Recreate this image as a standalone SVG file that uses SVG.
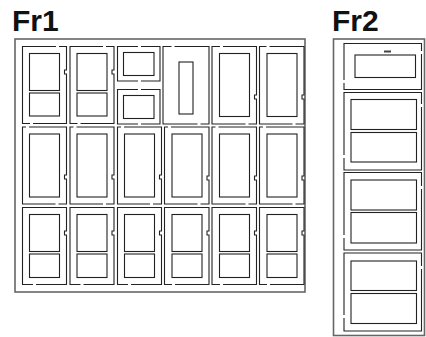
<svg xmlns="http://www.w3.org/2000/svg" width="426" height="337" viewBox="0 0 426 337">
<style>
.t{font-family:"Liberation Sans",Arial,sans-serif;font-weight:700;font-size:30px;fill:#111}
.f{fill:none;stroke:#666;stroke-width:1.6}
.c,.w{fill:none;stroke:#222;stroke-width:1.1}
</style>
<rect width="426" height="337" fill="#fff"/>
<text class="t" x="12" y="31">Fr1</text>
<text class="t" x="332" y="31">Fr2</text>
<g id="Fr1">
<rect class="f" x="15" y="39" width="290" height="253"/>
<g id="c11"><path class="c" d="M59 46.500H66.500V70H64.500V74H66.500V123.500H33M30 123.500H22.500V46.500H56"/><rect class="w" x="29.500" y="53.500" width="30" height="37"/><rect class="w" x="29.500" y="93" width="30" height="23"/></g>
<g id="c12"><path class="c" d="M106 46.500H114V70H112V74H114V123.500H80.500M77.500 123.500H70V46.500H103"/><rect class="w" x="77" y="53.500" width="30" height="37"/><rect class="w" x="77" y="93" width="30" height="23"/></g>
<g id="c13a"><path class="c" d="M141 46.500H160V81H141M138 81H117.500V46.500H138"/><rect class="w" x="123.500" y="52.500" width="30.500" height="23"/></g>
<g id="c13b"><path class="c" d="M141 89.500H160V124H141M138 124H117.500V89.500H138"/><rect class="w" x="123.500" y="95.500" width="30.500" height="23"/></g>
<g id="c14"><path class="c" d="M174.500 46.500H209V124H200.500M197.500 124H163V46.500H171.500"/><rect class="w" x="179" y="62" width="14" height="52"/></g>
<g id="c15"><path class="c" d="M223 46.500H256.500V95H254.500V99H256.500V124H248.500M245.500 124H212V46.500H220"/><rect class="w" x="219.500" y="53.500" width="30" height="63"/></g>
<g id="c16"><path class="c" d="M269.500 46.500H304V95H302V99H304V124H295.500M292.500 124H259.500V46.500H266.500"/><rect class="w" x="267" y="53.500" width="30" height="63"/></g>
<g id="c21"><path class="c" d="M29 127H66.500V175H64.500V179H66.500V204H58.500M55.500 204H22.500V127H26"/><rect class="w" x="29.500" y="134" width="30" height="63"/></g>
<g id="c22"><path class="c" d="M76.500 127H114V175H112V179H114V204H106M103 204H70V127H73.500"/><rect class="w" x="77" y="134" width="30" height="63"/></g>
<g id="c23"><path class="c" d="M124 127H161.500V175H159.500V179H161.500V204H153M150 204H117.500V127H121"/><rect class="w" x="124.500" y="134" width="30" height="63"/></g>
<g id="c24"><path class="c" d="M171 127H209V176H207V180H209V204H200.500M197.500 204H164.500V127H168"/><rect class="w" x="172" y="134" width="30" height="63"/></g>
<g id="c25"><path class="c" d="M218.500 127H256.500V176H254.500V180H256.500V204H248.500M245.500 204H212V127H215.500"/><rect class="w" x="219.500" y="134" width="30" height="63"/></g>
<g id="c26"><path class="c" d="M266 127H304V176H302V180H304V204H295.500M292.500 204H259.500V127H263"/><rect class="w" x="267" y="134" width="30" height="63"/></g>
<g id="c31"><path class="c" d="M33 284.500H22.500V207.500H66.500V231H64.500V235H66.500V284.500H36"/><rect class="w" x="29.500" y="214.500" width="30" height="37"/><rect class="w" x="29.500" y="254" width="30" height="23.500"/></g>
<g id="c32"><path class="c" d="M80.500 284.500H70V207.500H114V231H112V235H114V284.500H83.500"/><rect class="w" x="77" y="214.500" width="30" height="37"/><rect class="w" x="77" y="254" width="30" height="23.500"/></g>
<g id="c33"><path class="c" d="M128 284.500H117.500V207.500H161.500V231H159.500V235H161.500V284.500H131"/><rect class="w" x="124.500" y="214.500" width="30" height="37"/><rect class="w" x="124.500" y="254" width="30" height="23.500"/></g>
<g id="c34"><path class="c" d="M172 284.500H164.500V207.500H209V231H207V235H209V284.500H175"/><rect class="w" x="172" y="214.500" width="30" height="37"/><rect class="w" x="172" y="254" width="30" height="23.500"/></g>
<g id="c35"><path class="c" d="M220 284.500H212V207.500H256.500V231H254.500V235H256.500V284.500H223"/><rect class="w" x="219.500" y="214.500" width="30" height="37"/><rect class="w" x="219.500" y="254" width="30" height="23.500"/></g>
<g id="c36"><path class="c" d="M267 284.500H259.500V207.500H304V231H302V235H304V284.500H270"/><rect class="w" x="267" y="214.500" width="30" height="37"/><rect class="w" x="267" y="254" width="30" height="23.500"/></g>
</g>
<g id="Fr2">
<rect class="f" x="333.500" y="39" width="91" height="296.500"/>
<g id="d1"><path class="c" d="M344 80V43.500H421.500V51M421.500 54V89.500H344V83"/><rect class="w" x="355" y="55" width="60.500" height="22.500"/><rect x="384" y="50.500" width="7" height="2" fill="#444"/></g>
<g id="d2"><path class="c" d="M344 155V92.500H421.500V104M421.500 107V170H344V158"/><rect class="w" x="351" y="99.500" width="65.500" height="30"/><rect class="w" x="351" y="132.500" width="65.500" height="29.500"/></g>
<g id="d3"><path class="c" d="M344 235V172.500H421.500V186M421.500 189V250H344V238"/><rect class="w" x="351" y="180" width="65.500" height="30"/><rect class="w" x="351" y="212.500" width="65.500" height="30.500"/></g>
<g id="d4"><path class="c" d="M344 315V253H421.500V266M421.500 269V331H344V318"/><rect class="w" x="351" y="261" width="65.500" height="29.500"/><rect class="w" x="351" y="293.500" width="65.500" height="30"/></g>
</g>
</svg>
